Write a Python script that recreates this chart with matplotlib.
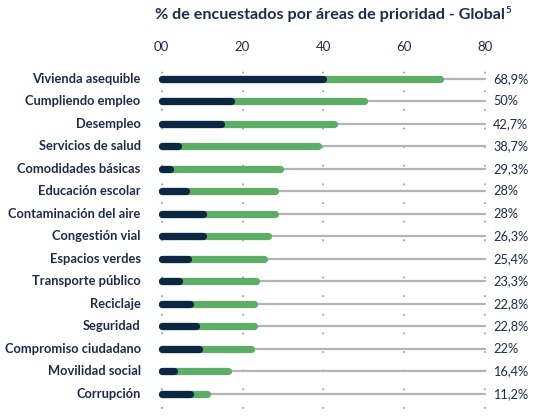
import numpy as np
import matplotlib
matplotlib.use('Agg')
import matplotlib.pyplot as plt

# Datos
categorias = ['Vivienda asequible', 'Cumpliendo empleo', 'Desempleo', 'Servicios de salud',
              'Comodidades básicas', 'Educación escolar', 'Contaminación del aire',
              'Congestión vial', 'Espacios verdes', 'Transporte público', 'Reciclaje',
              'Seguridad', 'Compromiso ciudadano', 'Movilidad social', 'Corrupción']
total = [68.9, 50, 42.7, 38.7, 29.3, 28, 28, 26.3, 25.4, 23.3, 22.8, 22.8, 22, 16.4, 11.2]
oscuro = [40.0, 17.2, 14.7, 4.0, 2.1, 6.0, 10.1, 10.1, 6.6, 4.3, 7.0, 8.4, 9.3, 3.1, 7.0]
etiquetas_valor = ['68,9%', '50%', '42,7%', '38,7%', '29,3%', '28%', '28%', '26,3%', '25,4%',
                   '23,3%', '22,8%', '22,8%', '22%', '16,4%', '11,2%']
ticks = [0, 20, 40, 60, 80]
tick_labels = ['00', '20', '40', '60', '80']
maximo = 80

navy = '#0c2742'
verde = '#5cad66'
gris = '#b4b4b4'
texto = '#1d2c4c'

plt.rcParams['font.family'] = ['Lato', 'DejaVu Sans']
plt.rcParams['lines.scale_dashes'] = False

fig = plt.figure(figsize=(5.45, 4.18), dpi=100)
ax = fig.add_axes([0.2819, 0.0144, 0.623, 0.856])

y = np.arange(len(categorias))
y0, y1 = -1.1, 14.8

# rejilla punteada
for t in ticks:
    ax.plot([t, t], [y0, y1], color='#a8a8a8', lw=1.6, linestyle=(0, (0.01, 13.4)),
            dash_capstyle='round', zorder=1)

for i in range(len(categorias)):
    ax.plot([0, maximo], [y[i], y[i]], color=gris, lw=1.6, solid_capstyle='round', zorder=2)
    ax.plot([0, total[i]], [y[i], y[i]], color=verde, lw=5.2, solid_capstyle='round', zorder=3)
    ax.plot([0, oscuro[i]], [y[i], y[i]], color=navy, lw=5.2, solid_capstyle='round', zorder=4)
    ax.text(maximo + 2.0, y[i], etiquetas_valor[i], va='center', ha='left',
            fontsize=9.2, color=texto)
    ax.text(-5.2, y[i], categorias[i], va='center', ha='right',
            fontsize=9.3, fontweight='bold', color=texto)

ax.set_xlim(-2, 82)
ax.set_ylim(y1, y0)
ax.xaxis.tick_top()
ax.set_xticks(ticks)
ax.set_xticklabels(tick_labels, fontsize=9.5, color=texto)
ax.tick_params(axis='x', length=0, pad=1)
ax.set_yticks([])
for s in ax.spines.values():
    s.set_visible(False)

fig.text(0.285, 0.963, '% de encuestados por áreas de prioridad - Global',
         ha='left', va='center', fontsize=11.6, fontweight='bold', color=texto)
fig.text(0.927, 0.975, '5', ha='left', va='center', fontsize=7, fontweight='bold', color=texto)

fig.savefig('out.png', dpi=100)
